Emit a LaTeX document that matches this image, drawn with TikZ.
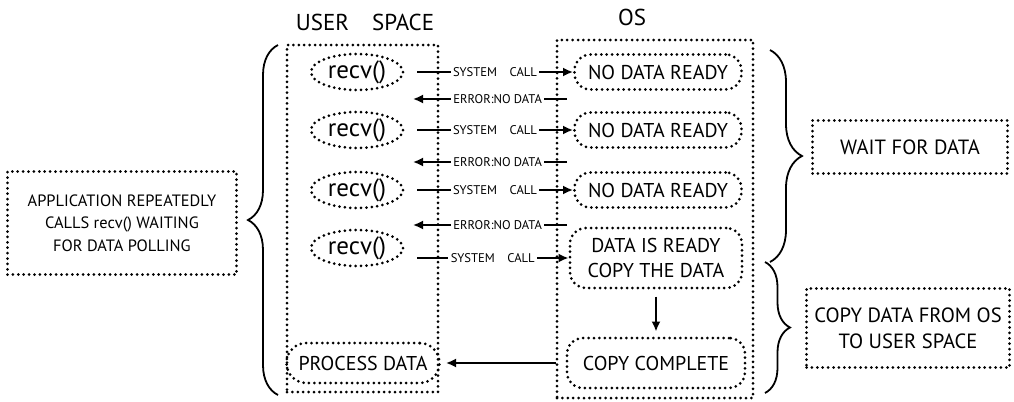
\documentclass[tikz,border=0pt]{standalone}
\usepackage{fontspec}
\setmainfont{PT Sans}
\usepackage{tikz}
\usetikzlibrary{positioning,arrows.meta,shapes.geometric,decorations.pathreplacing}

\begin{document}
\begin{tikzpicture}[x=0.5pt, y=-0.5pt,
    dots/.style={line width=1.5pt, line cap=round, dash pattern=on 0pt off 2.7pt},
    area/.style={dots, draw, inner sep=0pt},
    recvbox/.style={dots, draw, ellipse, inner sep=0pt, minimum width=46pt, minimum height=18pt, font=\fontsize{12.5}{14}\selectfont},
    osbox/.style={dots, draw, rounded corners=8pt, inner sep=0pt, minimum width=83.5pt, minimum height=17.5pt, align=center, font=\fontsize{10}{12.5}\selectfont},
    note/.style={dots, draw, inner sep=0pt, align=center},
    arrow/.style={line width=0.9pt, -{Latex[length=5pt, width=4.5pt]}},
    msg/.style={fill=white, inner sep=1.2pt, font=\fontsize{6.3}{7}\selectfont},
    brace/.style={line width=0.9pt, decorate, decoration={brace, amplitude=#1}}]
  \useasboundingbox (0,0) rectangle (1014,402);
  % column titles
  \node[font=\fontsize{11.5}{13}\selectfont] (usertitle) at (365,22) {USER\quad SPACE};
  \node[font=\fontsize{11.5}{13}\selectfont] (ostitle) at (632,17) {OS};
  % user space and OS columns
  \node[area, minimum width=75.5pt, minimum height=173.5pt] (user) at (362.5,218.5) {};
  \node[area, minimum width=98pt, minimum height=179pt] (os) at (655,219) {};
  % calls and answers
  \foreach \y/\n in {72/1, 130/2, 190/3, 248/4}
    \node[recvbox] (recv\n) at (357,\y) {recv()};
  \foreach \y/\n in {72/1, 130/2, 190/3}
    \node[osbox] (nodata\n) at (658,\y) {NO DATA READY};
  \node[osbox, minimum width=86pt, minimum height=30pt] (ready) at (656,258) {DATA IS READY\\COPY THE DATA};
  \node[osbox, minimum width=89pt, minimum height=25pt] (complete) at (656,363) {COPY COMPLETE};
  \node[osbox, minimum width=76.5pt, minimum height=20pt, rounded corners=10pt] (process) at (363,363) {PROCESS DATA};
  % system calls
  \foreach \y/\n in {72/1, 130/2, 190/3} {
    \coordinate (call\n) at (417,\y);
    \draw[arrow] (call\n) -- node[msg] {SYSTEM\quad CALL} (call\n -| nodata\n.west);
  }
  \coordinate (call4) at (417,258);
  \draw[arrow] (call4) -- node[msg] {SYSTEM\quad CALL} (ready.west);
  % errors back to user space
  \foreach \y/\n in {99/1, 162/2, 225/3} {
    \coordinate (err\n) at (567,\y);
    \coordinate (back\n) at (413,\y);
    \draw[arrow] (err\n) -- node[msg, pos=0.45] {ERROR:NO DATA} (back\n);
  }
  \draw[arrow] ([yshift=-3.5pt]ready.south) -- ([yshift=2.5pt]complete.north);
  \draw[arrow] (complete.west -| os.west) -- ([xshift=2.5pt]process.east);
  % braces
  \coordinate (lb1) at (278,395);
  \coordinate (lb2) at (278,45);
  \coordinate (wb1) at (770,50);
  \coordinate (wb2) at (770,262);
  \coordinate (cb1) at (765,262);
  \coordinate (cb2) at (765,393);
  \draw[brace=15pt] (lb1) -- (lb2);
  \draw[brace=16pt] (wb1) -- (wb2);
  \draw[brace=12.5pt] (cb1) -- (cb2);
  % notes
  \node[note, minimum width=114.5pt, minimum height=51.5pt, font=\fontsize{8.2}{11.25}\selectfont] (app) at (122,223) {APPLICATION REPEATEDLY\\CALLS recv() WAITING\\FOR DATA POLLING};
  \node[note, minimum width=97.5pt, minimum height=26.5pt, font=\fontsize{10.3}{12}\selectfont] (wait) at (910,147) {WAIT FOR DATA};
  \node[note, minimum width=101.5pt, minimum height=39.5pt, font=\fontsize{10.3}{13}\selectfont] (copy) at (908,328) {COPY DATA FROM OS\\TO USER SPACE};
\end{tikzpicture}
\end{document}
